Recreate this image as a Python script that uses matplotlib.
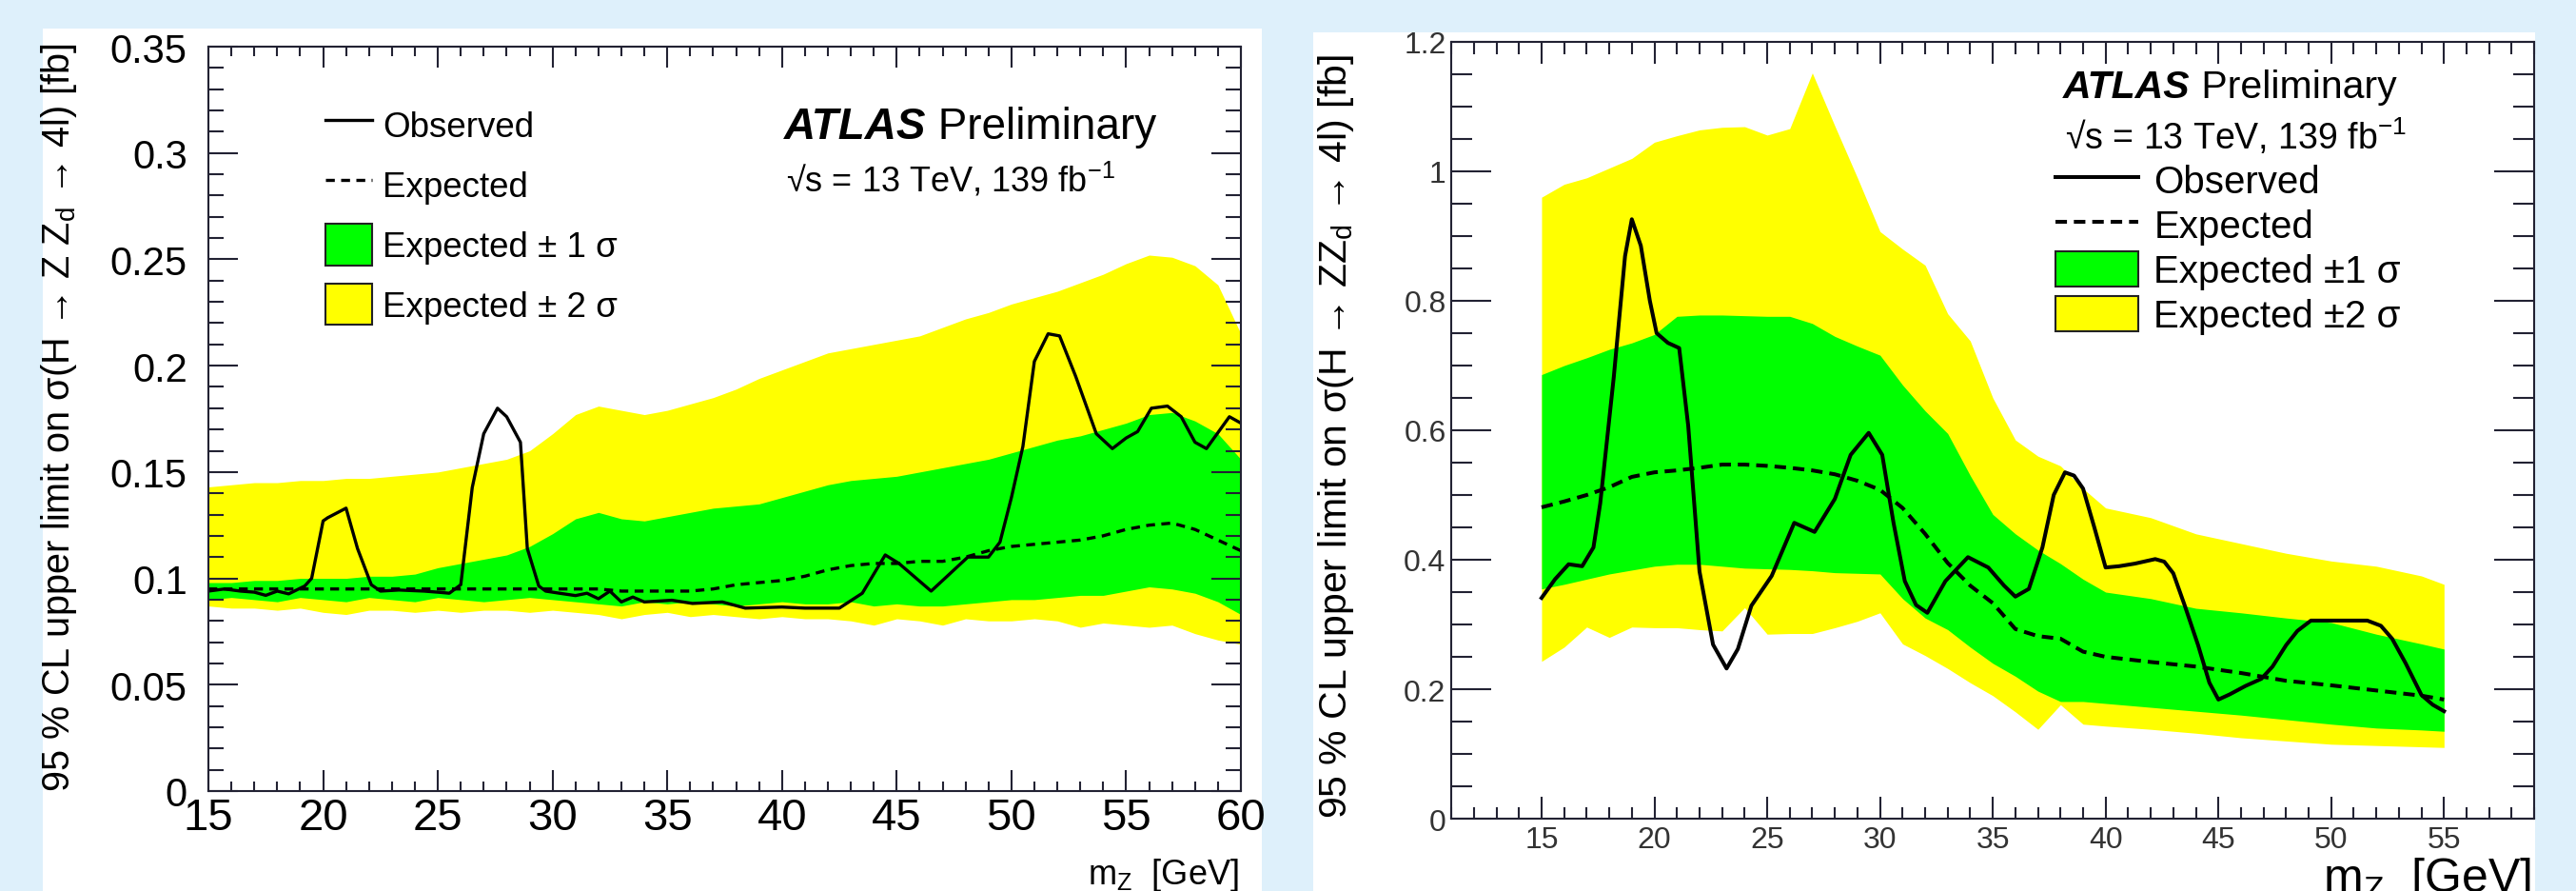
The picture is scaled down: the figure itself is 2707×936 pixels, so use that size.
import matplotlib
matplotlib.use('Agg')
import matplotlib.pyplot as plt
from matplotlib.ticker import MultipleLocator, FuncFormatter
from matplotlib.lines import Line2D
from matplotlib.patches import Patch, Rectangle

plt.rcParams['font.family'] = ['Liberation Sans', 'DejaVu Sans']
plt.rcParams['mathtext.default'] = 'regular'

# ---- painel esquerdo: H -> Z Zd -> 4l ----
x_esq = [15, 16, 17, 18, 19, 20, 21, 22, 23, 24, 25, 26, 27, 28, 29, 30, 31, 32, 33, 34, 35, 36, 37,
         38, 39, 40, 41, 42, 43, 44, 45, 46, 47, 48, 49, 50, 51, 52, 53, 54, 55, 56, 57, 58, 59, 60]
sup2_esq = [0.143, 0.144, 0.145, 0.145, 0.146, 0.146, 0.147, 0.147, 0.148, 0.149, 0.150, 0.152, 0.154,
            0.156, 0.160, 0.168, 0.177, 0.181, 0.179, 0.177, 0.179, 0.182, 0.185, 0.189, 0.194, 0.198,
            0.202, 0.206, 0.208, 0.210, 0.212, 0.214, 0.218, 0.222, 0.225, 0.229, 0.232, 0.235, 0.239,
            0.243, 0.248, 0.252, 0.251, 0.247, 0.238, 0.215]
sup1_esq = [0.098, 0.098, 0.099, 0.099, 0.100, 0.100, 0.100, 0.101, 0.101, 0.102, 0.105, 0.107, 0.109,
            0.111, 0.115, 0.121, 0.128, 0.131, 0.128, 0.127, 0.129, 0.131, 0.133, 0.134, 0.135, 0.138,
            0.141, 0.144, 0.146, 0.147, 0.148, 0.150, 0.152, 0.154, 0.156, 0.159, 0.162, 0.165, 0.167,
            0.170, 0.173, 0.177, 0.178, 0.174, 0.168, 0.156]
inf1_esq = [0.090, 0.091, 0.090, 0.089, 0.091, 0.090, 0.089, 0.091, 0.090, 0.089, 0.091, 0.090, 0.089,
            0.090, 0.091, 0.090, 0.089, 0.088, 0.087, 0.089, 0.088, 0.089, 0.088, 0.087, 0.088, 0.089,
            0.088, 0.088, 0.089, 0.087, 0.088, 0.087, 0.087, 0.088, 0.089, 0.090, 0.090, 0.091, 0.092,
            0.092, 0.094, 0.096, 0.095, 0.093, 0.089, 0.083]
inf2_esq = [0.087, 0.086, 0.086, 0.085, 0.086, 0.084, 0.083, 0.085, 0.085, 0.084, 0.085, 0.084, 0.085,
            0.085, 0.084, 0.085, 0.084, 0.083, 0.081, 0.083, 0.084, 0.082, 0.083, 0.082, 0.081, 0.082,
            0.081, 0.081, 0.080, 0.078, 0.081, 0.080, 0.078, 0.081, 0.080, 0.080, 0.081, 0.080, 0.077,
            0.079, 0.078, 0.077, 0.078, 0.074, 0.071, 0.069]
esp_esq = [0.095, 0.095, 0.095, 0.095, 0.095, 0.095, 0.095, 0.095, 0.095, 0.095, 0.095, 0.095, 0.095,
           0.095, 0.095, 0.095, 0.095, 0.095, 0.094, 0.094, 0.094, 0.094, 0.095, 0.097, 0.098, 0.099,
           0.101, 0.104, 0.106, 0.107, 0.107, 0.108, 0.108, 0.110, 0.113, 0.115, 0.116, 0.117, 0.118,
           0.120, 0.123, 0.125, 0.126, 0.123, 0.118, 0.113]
xobs_esq = [15.0, 15.7, 16.4, 17.0, 17.5, 18.0, 18.5, 19.2, 19.5, 20.0, 20.2, 21.0, 21.5, 22.1, 22.5,
            23.3, 24.4, 25.1, 25.5, 26.0, 26.5, 27.0, 27.6, 28.0, 28.6, 28.9, 29.4, 29.7, 30.3, 31.0,
            31.5, 32.0, 32.5, 33.0, 33.5, 34.0, 35.2, 36.1, 37.4, 38.4, 40.0, 41.0, 42.5, 43.5, 44.5,
            45.1, 46.5, 48.1, 49.0, 49.5, 50.0, 50.5, 51.0, 51.6, 52.1, 52.8, 53.7, 54.4, 55.0, 55.5,
            56.1, 56.8, 57.4, 58.0, 58.5, 59.1, 59.5, 60.0]
obs_esq = [0.094, 0.095, 0.094, 0.0935, 0.092, 0.094, 0.0927, 0.0964, 0.100, 0.127, 0.1285, 0.133,
           0.114, 0.097, 0.094, 0.0945, 0.094, 0.0934, 0.093, 0.097, 0.1427, 0.168, 0.180, 0.176, 0.164,
           0.114, 0.0964, 0.094, 0.093, 0.0919, 0.093, 0.0904, 0.094, 0.0889, 0.0912, 0.0889, 0.0897,
           0.0882, 0.0889, 0.086, 0.0865, 0.086, 0.086, 0.093, 0.111, 0.107, 0.094, 0.110, 0.110, 0.117,
           0.138, 0.162, 0.202, 0.215, 0.214, 0.195, 0.168, 0.161, 0.166, 0.169, 0.180, 0.181, 0.176,
           0.164, 0.161, 0.170, 0.176, 0.173]

# ---- painel direito: H -> ZZd -> 4l ----
x_dir = [15, 16, 17, 18, 19, 20, 21, 22, 23, 24, 25, 26, 27, 28, 29, 30, 31, 32, 33, 34, 35, 36, 37,
         38, 39, 40, 42, 44, 46, 48, 50, 52, 54, 55]
sup2_dir = [0.960, 0.980, 0.990, 1.005, 1.020, 1.045, 1.055, 1.064, 1.068, 1.069, 1.056, 1.066, 1.152,
            1.070, 0.990, 0.907, 0.880, 0.855, 0.780, 0.738, 0.650, 0.585, 0.560, 0.545, 0.510, 0.480,
            0.465, 0.440, 0.425, 0.410, 0.398, 0.390, 0.375, 0.362]
sup1_dir = [0.686, 0.700, 0.712, 0.725, 0.735, 0.748, 0.776, 0.778, 0.778, 0.777, 0.776, 0.776, 0.765,
            0.745, 0.730, 0.716, 0.670, 0.630, 0.595, 0.530, 0.470, 0.440, 0.415, 0.394, 0.370, 0.350,
            0.340, 0.325, 0.318, 0.310, 0.303, 0.285, 0.270, 0.262]
inf1_dir = [0.355, 0.362, 0.370, 0.378, 0.384, 0.390, 0.393, 0.393, 0.390, 0.387, 0.386, 0.385, 0.383,
            0.380, 0.379, 0.378, 0.340, 0.310, 0.292, 0.265, 0.240, 0.220, 0.197, 0.181, 0.181, 0.178,
            0.172, 0.166, 0.160, 0.153, 0.146, 0.140, 0.137, 0.135]
inf2_dir = [0.243, 0.265, 0.296, 0.280, 0.296, 0.295, 0.295, 0.292, 0.290, 0.326, 0.285, 0.286, 0.286,
            0.295, 0.305, 0.318, 0.270, 0.252, 0.232, 0.210, 0.190, 0.165, 0.138, 0.176, 0.146, 0.143,
            0.138, 0.132, 0.125, 0.120, 0.115, 0.113, 0.111, 0.110]
esp_dir = [0.481, 0.490, 0.500, 0.512, 0.528, 0.535, 0.538, 0.542, 0.547, 0.547, 0.545, 0.542, 0.538,
           0.532, 0.522, 0.508, 0.480, 0.440, 0.395, 0.360, 0.333, 0.293, 0.282, 0.278, 0.258, 0.250,
           0.242, 0.235, 0.225, 0.213, 0.206, 0.198, 0.190, 0.184]
xobs_dir = [15.0, 15.6, 16.2, 16.8, 17.3, 17.6, 18.2, 18.7, 19.0, 19.4, 19.8, 20.1, 20.6, 21.1, 21.5,
            22.0, 22.6, 23.2, 23.7, 24.3, 25.2, 26.2, 27.1, 28.0, 28.7, 29.5, 30.1, 30.6, 31.1, 31.6,
            32.1, 32.9, 33.9, 34.8, 35.5, 36.0, 36.6, 37.2, 37.7, 38.2, 38.6, 39.0, 39.5, 40.0, 40.6,
            41.3, 42.2, 42.6, 43.0, 43.5, 44.1, 44.6, 45.0, 45.5, 46.2, 46.9, 47.4, 48.0, 48.5, 49.1,
            50.4, 51.6, 52.2, 52.7, 53.3, 54.0, 54.5, 55.0]
obs_dir = [0.341, 0.370, 0.393, 0.390, 0.419, 0.487, 0.682, 0.869, 0.926, 0.885, 0.800, 0.750, 0.735,
           0.727, 0.607, 0.382, 0.269, 0.232, 0.262, 0.329, 0.375, 0.457, 0.443, 0.494, 0.562, 0.596,
           0.562, 0.457, 0.367, 0.330, 0.318, 0.367, 0.404, 0.388, 0.360, 0.343, 0.355, 0.419, 0.500,
           0.535, 0.530, 0.510, 0.450, 0.388, 0.390, 0.394, 0.401, 0.397, 0.379, 0.330, 0.268, 0.210,
           0.184, 0.192, 0.205, 0.216, 0.235, 0.268, 0.290, 0.306, 0.306, 0.306, 0.298, 0.278, 0.240,
           0.191, 0.176, 0.166]

verde = '#00ff00'
amarelo = '#ffff00'
fundo = '#def0fb'


def fmt(v, pos):
    return '%g' % round(v, 3)


def painel(ax, x, inf2, sup2, inf1, sup1, esp, xo, obs, lw, dash):
    ax.fill_between(x, inf2, sup2, color=amarelo, lw=0)
    ax.fill_between(x, inf1, sup1, color=verde, lw=0)
    ax.plot(x, esp, color='black', lw=lw, dashes=dash)
    ax.plot(xo, obs, color='black', lw=lw)
    for s in ax.spines.values():
        s.set_linewidth(1.5)
        s.set_color('#222233')
    ax.tick_params(which='both', direction='in', top=True, right=True, width=1.5, color='#222233')
    ax.yaxis.set_major_formatter(FuncFormatter(fmt))


fig = plt.figure(figsize=(27.07, 9.37), dpi=100, facecolor=fundo)
fig.add_artist(Rectangle((0.0166, 0), 0.4732, 0.9669, transform=fig.transFigure,
                         facecolor='white', lw=0, zorder=-1))
fig.add_artist(Rectangle((0.5098, 0), 0.4743, 0.9626, transform=fig.transFigure,
                         facecolor='white', lw=0, zorder=-1))

# esquerda
ax1 = fig.add_axes([0.0809, 0.1121, 0.4008, 0.8345])
painel(ax1, x_esq, inf2_esq, sup2_esq, inf1_esq, sup1_esq, esp_esq, xobs_esq, obs_esq, 2.4, (2.8, 2))
ax1.set_xlim(15, 60)
ax1.set_ylim(0, 0.35)
ax1.xaxis.set_major_locator(MultipleLocator(5))
ax1.xaxis.set_minor_locator(MultipleLocator(1))
ax1.yaxis.set_major_locator(MultipleLocator(0.05))
ax1.yaxis.set_minor_locator(MultipleLocator(0.01))
ax1.tick_params(axis='y', which='major', length=22, labelsize=30, pad=16)
ax1.tick_params(axis='y', which='minor', length=11.5)
ax1.tick_params(axis='x', which='major', length=16, labelsize=34, pad=4)
ax1.tick_params(axis='x', which='minor', length=7)

handles1 = [Line2D([], [], color='black', lw=2.4),
            Line2D([], [], color='black', lw=2.4, dashes=(2.8, 2)),
            Patch(facecolor=verde, edgecolor='#222222', lw=1.5),
            Patch(facecolor=amarelo, edgecolor='#222222', lw=1.5)]
ax1.legend(handles1, ['Observed', 'Expected', 'Expected \u00b1 1 \u03c3', 'Expected \u00b1 2 \u03c3'],
           loc='upper left', bbox_to_anchor=(0.1134, 0.923), frameon=False, fontsize=26.5,
           handlelength=1.33, handleheight=1.45, labelspacing=0.52, handletextpad=0.3,
           borderpad=0, borderaxespad=0)
t1 = ax1.text(0.5576, 0.877, 'ATLAS', transform=ax1.transAxes, fontsize=33,
              fontweight='bold', fontstyle='italic', va='baseline')
ax1.annotate(' Preliminary', xy=(1, 0), xycoords=t1, fontsize=33, va='bottom')
ax1.text(0.5594, 0.806, '\u221as = 13 TeV, 139 fb$^{-1}$', transform=ax1.transAxes,
         fontsize=26, va='baseline')

fig.text(62 / 2707, 1 - 45 / 937,
         '95 % CL upper limit on \u03c3(H \u2192 Z Z$_{d}$ \u2192 4l) [fb]',
         rotation=90, ha='center', va='top', fontsize=28.5)
fig.text(1302 / 2707, 1 - 929 / 937, 'm$_{Z}$  [GeV]', ha='right', va='baseline', fontsize=26)

# direita
ax2 = fig.add_axes([0.5634, 0.0811, 0.4204, 0.8709])
painel(ax2, x_dir, inf2_dir, sup2_dir, inf1_dir, sup1_dir, esp_dir, xobs_dir, obs_dir, 2.9, (3, 1.8))
ax2.set_xlim(11, 59)
ax2.set_ylim(0, 1.2)
ax2.xaxis.set_major_locator(MultipleLocator(5))
ax2.xaxis.set_minor_locator(MultipleLocator(1))
ax2.yaxis.set_major_locator(MultipleLocator(0.2))
ax2.yaxis.set_minor_locator(MultipleLocator(0.05))
ax2.tick_params(axis='y', which='major', length=30, labelsize=23, pad=4, labelcolor='#333333')
ax2.tick_params(axis='y', which='minor', length=16)
ax2.tick_params(axis='x', which='major', length=16.5, labelsize=23, pad=5, labelcolor='#333333')
ax2.tick_params(axis='x', which='minor', length=9)

handles2 = [Line2D([], [], color='black', lw=2.9),
            Line2D([], [], color='black', lw=2.9, dashes=(3, 1.8)),
            Patch(facecolor=verde, edgecolor='#222222', lw=1.5),
            Patch(facecolor=amarelo, edgecolor='#222222', lw=1.5)]
ax2.legend(handles2, ['Observed', 'Expected', 'Expected \u00b11 \u03c3', 'Expected \u00b12 \u03c3'],
           loc='upper left', bbox_to_anchor=(0.558, 0.846), frameon=False, fontsize=29,
           handlelength=2.16, handleheight=1.04, labelspacing=0.17, handletextpad=0.4,
           borderpad=0, borderaxespad=0)
t2 = ax2.text(0.565, 0.929, 'ATLAS', transform=ax2.transAxes, fontsize=29.5,
              fontweight='bold', fontstyle='italic', va='baseline')
ax2.annotate(' Preliminary', xy=(1, 0), xycoords=t2, fontsize=29.5, va='bottom')
ax2.text(0.567, 0.863, '\u221as = 13 TeV, 139 fb$^{-1}$', transform=ax2.transAxes,
         fontsize=27, va='baseline')

fig.text(1404 / 2707, 1 - 57 / 937,
         '95 % CL upper limit on \u03c3(H \u2192 ZZ$_{d}$ \u2192 4l) [fb]',
         rotation=90, ha='center', va='top', fontsize=29.5)
fig.text(2660 / 2707, 0.0, 'm$_{Z}$  [GeV]', ha='right', va='baseline', fontsize=36)

fig.savefig('out.png', dpi=100, facecolor=fundo)
